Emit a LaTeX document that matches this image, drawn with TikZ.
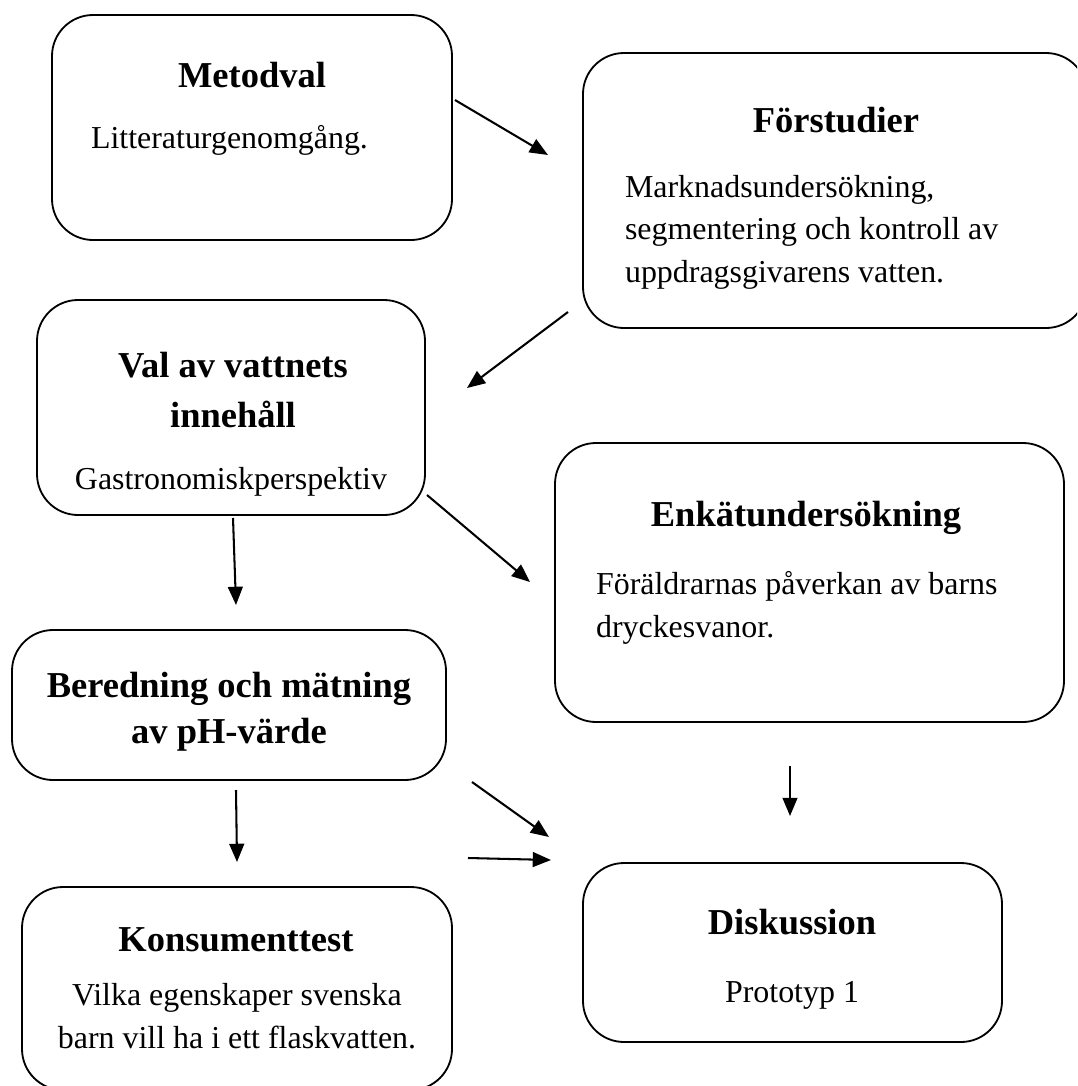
\documentclass[tikz,border=0pt]{standalone}
\usepackage{fontspec}
\setmainfont{Liberation Serif}
\usetikzlibrary{arrows.meta,positioning}
\newlength{\pxu}
\setlength{\pxu}{0.4386pt}

\begin{document}
\begin{tikzpicture}[x=0.4386pt,y=-0.4386pt,
  box/.style={draw, line width=0.8pt, rounded corners=18pt, inner sep=0pt},
  title/.style={font=\fontsize{16}{22}\selectfont\bfseries, align=center},
  body/.style={font=\fontsize{14}{18.6}\selectfont, align=left},
  flow/.style={-{Triangle[length=8pt,width=6.5pt]}, line width=0.9pt}]
\clip (0,0) rectangle (1077,1086);

% Boxes
\node[box, minimum width=400\pxu, minimum height=225\pxu] (metodval) at (252,127.5) {};
\node[box, minimum width=504\pxu, minimum height=275\pxu] (forstudier) at (835,190.5) {};
\node[box, minimum width=388\pxu, minimum height=215\pxu] (val) at (231,407.5) {};
\node[box, minimum width=509\pxu, minimum height=279\pxu] (enkat) at (809.5,582.5) {};
\node[box, minimum width=434\pxu, minimum height=150\pxu] (beredning) at (229,705) {};
\node[box, minimum width=430\pxu, minimum height=203\pxu] (konsument) at (237,988.5) {};
\node[box, minimum width=419\pxu, minimum height=179\pxu] (diskussion) at (792.5,952.5) {};

% Texts
\node[title] (metodvalT) at (252,75) {Metodval};
\node[body, anchor=west] (metodvalB) at (83,140) {Litteraturgenomgång.};
\node[title] (forstudierT) at (836,120) {Förstudier};
\node[body, anchor=west] (forstudierB) at (617,232) {Marknadsundersökning,\\segmentering och kontroll av\\uppdragsgivarens vatten.};
\node[title] (valT) at (233,390) {Val av vattnets\\innehåll};
\node[body] (valB) at (231,482) {Gastronomiskperspektiv};
\node[title] (enkatT) at (806,518) {Enkätundersökning};
\node[body, anchor=west] (enkatB) at (588,608) {Föräldrarnas påverkan av barns\\dryckesvanor.};
\node[title, font=\fontsize{16}{20}\selectfont\bfseries] (beredningT) at (229,712) {Beredning och mätning\\av pH-värde};
\node[title] (konsumentT) at (236,940) {Konsumenttest};
\node[body, align=center] (konsumentB) at (237,1016) {Vilka egenskaper svenska\\barn vill ha i ett flaskvatten.};
\node[title] (diskussionT) at (792,922) {Diskussion};
\node[body] (diskussionB) at (792,995) {Prototyp 1};

% Arrow ends
\coordinate (a1s) at (455,100);  \coordinate (a1e) at (548,155);
\coordinate (a2s) at (568,312);  \coordinate (a2e) at (467,388);
\coordinate (a3s) at (427,495);  \coordinate (a3e) at (530,582);
\coordinate (a4s) at (233,518);  \coordinate (a4e) at (236,605);
\coordinate (a5s) at (472,782);  \coordinate (a5e) at (549,837);
\coordinate (a6s) at (236,790);  \coordinate (a6e) at (237,862);
\coordinate (a7s) at (790,766);  \coordinate (a7e) at (790,816);
\coordinate (a8s) at (468,858);  \coordinate (a8e) at (551,860);

% Arrows
\draw[flow] (a1s) -- (a1e);
\draw[flow] (a2s) -- (a2e);
\draw[flow] (a3s) -- (a3e);
\draw[flow] (a4s) -- (a4e);
\draw[flow] (a5s) -- (a5e);
\draw[flow] (a6s) -- (a6e);
\draw[flow] (a7s) -- (a7e);
\draw[flow] (a8s) -- (a8e);
\end{tikzpicture}
\end{document}
